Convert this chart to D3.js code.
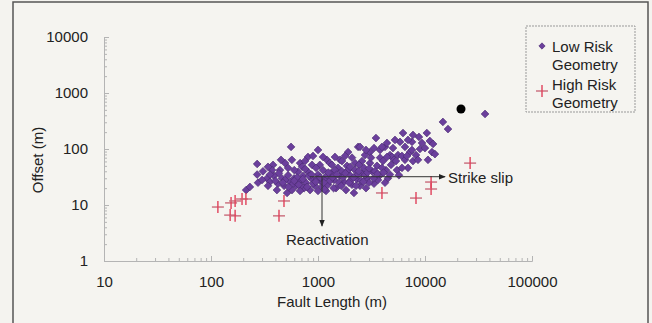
<!DOCTYPE html>
<html><head><meta charset="utf-8">
<script src="https://cdn.jsdelivr.net/npm/d3@7"></script>
<style>
html,body{margin:0;padding:0;background:#f4f3ef;}
svg{display:block;font-family:"Liberation Sans",Arial,sans-serif;}
</style></head><body>
<svg id="chart" width="652" height="323"></svg>
<script>
// Fault length (m) vs offset (m)
const lowRisk = [
  [213,18.5],[231,21],[270,54],[270,35],[275,25],[306,40],
  [560,109],[1000,96],[570,64],[492,56],[806,72],[1210,64],[2370,109],[2470,109],
  [3480,157],[3340,104],[4230,109],[4410,128],[6230,193],[7720,178],[10400,193],
  [11100,139],[11900,123],[14700,304],[16400,227],[8970,100],[6500,109],[5020,104],
  [7560,134],[5840,134],[1910,88],[1440,72],
  [1605,64],[1790,75],[2080,70],[2750,78],[3060,88],[3800,96],[4710,78],[5590,78],
  [6090,75],[4910,72],[3800,70],[2580,61],[2220,56],[1290,56],[880,52],[1040,52],
  [680,56],[380,52],[372,42],[441,42],[525,46],[710,48],
  [334,30],[356,26],[388,33],[423,24],[341,22],[413,18.5],[460,30],[482,22],
  [525,34],[547,26],[598,30],[623,22],[571,18.5],[651,39],[514,16.4],[679,27],
  [724,33],[773,25],[807,39],[880,29],[937,22],[1000,35],[842,18.5],[742,20],[958,46],[1044,27],
  [1114,42],[1162,30],[1240,23],[1322,37],[1411,28],[1473,20],[1538,46],[1188,17.8],[1351,52],[1605,33],
  [1676,40],[1749,26],[1866,50],[1990,34],[2078,23],[2216,42],[2314,29],[2415,52],[1826,18.5],[2168,16.4],
  [2577,37],[2689,46],[2869,30],[3061,56],[3196,40],[3337,24],[3558,50],[3795,34],[2808,20],[2468,22],
  [4050,61],[4319,42],[4509,30],[4810,52],[5128,64],[5472,42],[4226,25],[5710,34],
  [6499,64],[6935,46],[7719,61],[8236,78],[7237,88],[8599,64],
  [9993,104],[11620,88],[12390,81],[10660,64],
  [300,28],[356,35],[431,37],[492,28],[584,24],[637,31],[694,22],[824,33],[898,24],[978,29],
  [1090,21],[1213,34],[1294,27],[1441,42],[1570,25],[1712,31],[1906,42],[2034,28],[2265,22],[2364,35],
  [2522,27],[2748,34],[2995,25],[3128,70],[3408,40],[3635,28],[3962,46],[4412,72],[4706,35],[5356,61],
  [6093,46],[6785,75],[7556,96],[9369,128],[8781,164],[5241,145],[6935,145],[3962,109],[2808,96],
  [898,75],[451,64],[341,48],[756,61],[1114,72],[1676,61],[679,17.8],[1000,17.8],
  [400,27],[470,25],[530,21],[600,27],[660,23],[720,29],[790,21],[870,35],[950,26],[1050,31],
  [1130,25],[1250,38],[1370,31],[1500,35],[1650,22],[1800,37],[1950,25],[2150,31],[2400,40],[2650,26],
  [2900,38],[3300,30],[3600,36],[4100,38],[3000,45],[2000,48],[1400,20],[1150,19],[760,44],[600,42],
  [36400,422]
];
const highRisk = [
  [116,9.2],[154,10.9],[168,11.8],[195,12.8],[212,12.8],[151,6.6],[168,6.4],
  [481,11.8],[432,6.4],[3960,16.4],[8240,13.3],[11400,25.7],[11400,19.3],[26400,56]
];
const largestFault = [[21700,518]];
const xTicks = [10,100,1000,10000,100000];
const yTicks = [1,10,100,1000,10000];
const strikeSlipArrow = [[840,32],[15400,32]];
const reactivationArrow = [[1090,32],[1090,4.2]];

const svg = d3.select("#chart");

// outer frame
svg.append("rect").attr("x",13).attr("y",2).attr("width",635).attr("height",340)
  .attr("fill","#f5f4f0").attr("stroke","#555").attr("stroke-width",1.5);

const x = d3.scaleLog().domain([10,100000]).range([104,532]);
const y = d3.scaleLog().domain([1,10000]).range([261,37]);

const minor = (ticks) => {
  const out = [];
  for (let i = 0; i < ticks.length - 1; i++)
    for (let k = 2; k <= 9; k++) out.push(ticks[i]*k);
  return out;
};

const axisColor = "#b4b4b4";
// x axis
const gx = svg.append("g").attr("transform","translate(0,261)");
gx.call(d3.axisBottom(x).tickValues(minor(xTicks)).tickSize(-3).tickSizeOuter(0).tickFormat(""));
const gx2 = svg.append("g").attr("transform","translate(0,261)");
gx2.call(d3.axisBottom(x).tickValues(xTicks).tickSize(-5).tickSizeOuter(0).tickPadding(16).tickFormat(d3.format("d")));
// y axis
const gy = svg.append("g").attr("transform","translate(104,0)");
gy.call(d3.axisLeft(y).tickValues(minor(yTicks)).tickSize(-3).tickSizeOuter(0).tickFormat(""));
const gy2 = svg.append("g").attr("transform","translate(104,0)");
gy2.call(d3.axisLeft(y).tickValues(yTicks).tickSize(-5).tickSizeOuter(0).tickPadding(16).tickFormat(d3.format("d")));

svg.selectAll(".domain").attr("stroke",axisColor);
svg.selectAll(".tick line").attr("stroke",axisColor);
svg.selectAll(".tick text").attr("font-size",15).attr("fill","#222")
  .attr("font-family","'Liberation Sans',Arial,sans-serif");
gx2.selectAll(".tick text").attr("dy","0.71em").attr("y",15);

// axis titles
svg.append("text").attr("x",332).attr("y",307).attr("text-anchor","middle")
  .attr("font-size",15).attr("fill","#222").text("Fault Length (m)");
svg.append("text").attr("transform","translate(43,160) rotate(-90)").attr("text-anchor","middle")
  .attr("font-size",15).attr("fill","#222").text("Offset (m)");

// low risk diamonds
const diamond = d3.symbol(d3.symbolSquare, 30);
svg.append("g").selectAll("path").data(lowRisk).join("path")
  .attr("d", diamond)
  .attr("transform", d => `translate(${x(d[0])},${y(d[1])}) rotate(45)`)
  .attr("fill","#6b3f9c").attr("stroke","#4b2a72").attr("stroke-width",0.6);

// high risk crosses
const cross = (g, cx, cy) => {
  g.append("line").attr("x1",cx-6).attr("x2",cx+6).attr("y1",cy).attr("y2",cy)
    .attr("stroke","#c96a7a").attr("stroke-width",1.4);
  g.append("line").attr("x1",cx).attr("x2",cx).attr("y1",cy-6).attr("y2",cy+6)
    .attr("stroke","#e0405a").attr("stroke-width",1.4);
};
const gc = svg.append("g");
highRisk.forEach(d => cross(gc, x(d[0]), y(d[1])));

// largest fault
svg.append("g").selectAll("circle").data(largestFault).join("circle")
  .attr("cx", d => x(d[0])).attr("cy", d => y(d[1])).attr("r",4.5).attr("fill","#000");

// annotation arrows
const defs = svg.append("defs");
defs.append("marker").attr("id","ah").attr("viewBox","0 0 10 10").attr("refX",9).attr("refY",5)
  .attr("markerWidth",7).attr("markerHeight",7).attr("orient","auto")
  .append("path").attr("d","M0,1 L10,5 L0,9 Z").attr("fill","#222");
const line = d3.line().x(d => x(d[0])).y(d => y(d[1]));
[strikeSlipArrow, reactivationArrow].forEach(a => {
  svg.append("path").attr("d", line(a)).attr("stroke","#333").attr("stroke-width",1)
    .attr("fill","none").attr("marker-end","url(#ah)");
});
svg.append("text").attr("x",448).attr("y",183).attr("font-size",15).attr("fill","#222").text("Strike slip");
svg.append("text").attr("x",286).attr("y",245).attr("font-size",15).attr("fill","#222").text("Reactivation");

// legend
const lg = svg.append("g");
lg.append("rect").attr("x",526).attr("y",26).attr("width",109).attr("height",86)
  .attr("fill","none").attr("stroke","#999").attr("stroke-dasharray","2,1");
lg.append("path").attr("d", d3.symbol(d3.symbolSquare, 20))
  .attr("transform","translate(542,46) rotate(45)").attr("fill","#6b3f9c").attr("stroke","#4b2a72").attr("stroke-width",0.6);
cross(lg, 542, 91);
[["Low Risk",51.5],["Geometry",70],["High Risk",90],["Geometry",108]].forEach(t => {
  lg.append("text").attr("x",552).attr("y",t[1]).attr("font-size",15).attr("fill","#222").text(t[0]);
});
</script>
</body></html>
